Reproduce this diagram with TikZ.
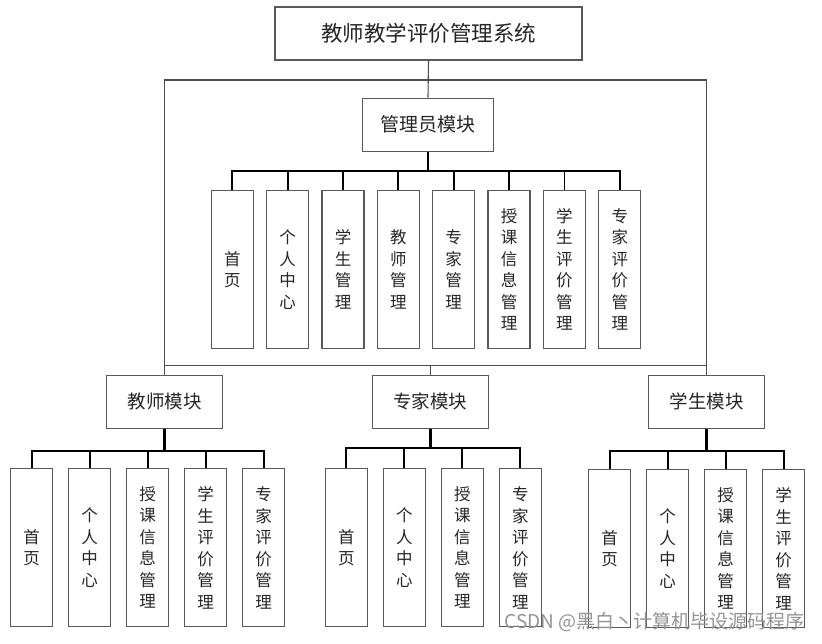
\documentclass[tikz,border=0pt]{standalone}
\usepackage{fontspec}
\newfontfamily\cjk{Noto Sans CJK SC}
\begin{document}
\begin{tikzpicture}[x=1pt,y=-1pt,
  box/.style={draw=black!65, line width=1.2pt, fill=white, inner sep=0pt, text=black!85},
  titlebox/.style={box, minimum width=307pt, minimum height=53pt, font=\cjk\fontsize{21.5}{24}\selectfont},
  modbox/.style={box, minimum width=116pt, minimum height=53pt, font=\cjk\fontsize{18.5}{22}\selectfont},
  leafbox/.style={box, minimum width=42pt, minimum height=158pt, align=center, font=\cjk\fontsize{16.5}{21.5}\selectfont},
  frame/.style={draw=black!70, line width=1.1pt},
  bus/.style={draw=black, line width=1.8pt},
  drop/.style={draw=black, line width=2.6pt},
  wm/.style={text=black!42, font=\cjk\fontsize{19}{22}\selectfont, inner sep=0pt}]
\useasboundingbox (0,0) rectangle (822,643);
\fill[white] (0,0) rectangle (822,643);

% frame lines (drawn first, under boxes)
\coordinate (ftl) at (164.7,80);
\coordinate (ftr) at (706.7,80);
\coordinate (fml) at (164.7,365.7);
\coordinate (fmr) at (706.7,365.7);
\coordinate (fmc) at (430.2,365.7);

% top
\node[titlebox] (sys) at (428.5,33.5) {教师教学评价管理系统};
\node[modbox, minimum width=131pt, font=\cjk\fontsize{19}{22}\selectfont] (adm) at (428,124.7) {管理员模块};

% modules
\node[modbox] (tea) at (164.7,401.7) {教师模块};
\node[modbox] (exp) at (430.2,401.7) {专家模块};
\node[modbox] (stu) at (706.7,401.7) {学生模块};

\draw[frame] (tea.north) -- (ftl) -- (ftr) -- (stu.north);
\draw[frame] (fml) -- (fmr);
\draw[frame] (fmc) -- (exp.north);
\draw[frame] (sys.south) -- (adm.north);

% admin leaves
\foreach \i/\t [count=\k from 0] in {1/首\\页, 2/个\\人\\中\\心, 3/学\\生\\管\\理, 4/教\\师\\管\\理, 5/专\\家\\管\\理, 6/授\\课\\信\\息\\管\\理, 7/学\\生\\评\\价\\管\\理, 8/专\\家\\评\\价\\管\\理}
  \node[leafbox] (a\i) at ({232.3+55.35*\k},269.5) {\t};
\coordinate (abus) at (428,170.7);
\draw[drop] (adm.south) -- (abus);
\draw[bus] (a1.north) -- (a1.north |- abus) -- (a8.north |- abus) -- (a8.north);
\foreach \i in {2,...,7} \draw[bus] (a\i.north) -- (a\i.north |- abus);

% teacher leaves
\foreach \i/\t [count=\k from 0] in {1/首\\页, 2/个\\人\\中\\心, 3/授\\课\\信\\息\\管\\理, 4/学\\生\\评\\价\\管\\理, 5/专\\家\\评\\价\\管\\理}
  \node[leafbox] (t\i) at ({31.7+58*\k},547.7) {\t};
\coordinate (tbus) at (164.7,450.7);
\draw[drop] (tea.south) -- (tbus);
\draw[bus] (t1.north) -- (t1.north |- tbus) -- (t5.north |- tbus) -- (t5.north);
\foreach \i in {2,3,4} \draw[bus] (t\i.north) -- (t\i.north |- tbus);

% expert leaves
\foreach \i/\t [count=\k from 0] in {1/首\\页, 2/个\\人\\中\\心, 3/授\\课\\信\\息\\管\\理, 4/专\\家\\评\\价\\管\\理}
  \node[leafbox] (e\i) at ({346.3+58*\k},547.7) {\t};
\coordinate (ebus) at (430.2,448);
\draw[drop] (exp.south) -- (ebus);
\draw[bus] (e1.north) -- (e1.north |- ebus) -- (e4.north |- ebus) -- (e4.north);
\foreach \i in {2,3} \draw[bus] (e\i.north) -- (e\i.north |- ebus);

% student leaves
\foreach \i/\t [count=\k from 0] in {1/首\\页, 2/个\\人\\中\\心, 3/授\\课\\信\\息\\管\\理, 4/学\\生\\评\\价\\管\\理}
  \node[leafbox] (s\i) at ({609.7+58*\k},548.7) {\t};
\coordinate (sbus) at (706.7,451);
\draw[drop] (stu.south) -- (sbus);
\draw[bus] (s1.north) -- (s1.north |- sbus) -- (s4.north |- sbus) -- (s4.north);
\foreach \i in {2,3} \draw[bus] (s\i.north) -- (s\i.north |- sbus);

% watermark
\node[wm, anchor=east] (wmark) at (805,622) {CSDN @黑白丶计算机毕设源码程序};
\end{tikzpicture}
\end{document}
